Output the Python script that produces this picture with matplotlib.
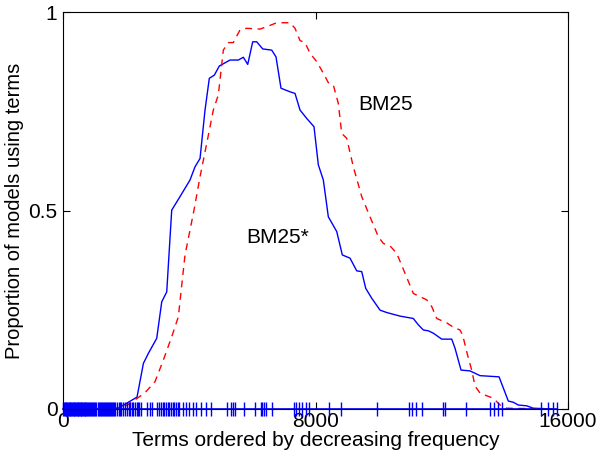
import numpy as np
import matplotlib.pyplot as plt

plt.rcParams['font.family'] = ['Liberation Sans', 'DejaVu Sans']

# BM25* (solid blue)
bm25s_x = [0, 1679, 1901, 2345, 2547, 2703, 2969, 3128, 3286, 3444, 3707, 4024, 4182,
           4341, 4499, 4635, 4794, 4952, 5291, 5554, 5713, 5852, 6010, 6137, 6327,
           6612, 6748, 6906, 7192, 7350, 7509, 7721, 7952, 8089, 8247, 8406, 8672,
           8849, 9093, 9305, 9464, 9590, 9781, 10044, 10256, 10677, 11099, 11257,
           11416, 11574, 11732, 11998, 12315, 12420, 12610, 12895, 13212, 13814,
           14108, 14267, 14425, 14691, 14900, 15500]
bm25s_y = [0, 0, 0.009, 0.030, 0.115, 0.140, 0.178, 0.270, 0.295, 0.501, 0.535, 0.577,
           0.610, 0.631, 0.753, 0.833, 0.841, 0.864, 0.879, 0.879, 0.886, 0.868, 0.925,
           0.925, 0.907, 0.904, 0.887, 0.808, 0.799, 0.795, 0.753, 0.732, 0.711, 0.615,
           0.577, 0.484, 0.447, 0.388, 0.380, 0.348, 0.346, 0.304, 0.279, 0.249, 0.243,
           0.234, 0.228, 0.212, 0.199, 0.197, 0.191, 0.176, 0.176, 0.153, 0.098, 0.096,
           0.084, 0.081, 0.020, 0.017, 0.010, 0.008, 0.002, 0]

# BM25 (dashed red)
bm25_x = [0, 1869, 2123, 2598, 2915, 3178, 3444, 3653, 3865, 4024, 4150, 4341, 4553,
          4762, 4920, 5079, 5237, 5396, 5608, 5820, 6242, 6454, 6771, 7192, 7350, 7509,
          7667, 7826, 8038, 8247, 8406, 8564, 8722, 8830, 8988, 9198, 9464, 9727, 9990,
          10148, 10360, 10573, 10835, 11099, 11311, 11523, 11682, 11840, 12157, 12365,
          12578, 12663, 12790, 12948, 13053, 13212, 13370, 13633, 13846, 14058, 15500]
bm25_y = [0, 0.003, 0.014, 0.041, 0.069, 0.123, 0.182, 0.232, 0.388, 0.451, 0.501,
          0.585, 0.669, 0.753, 0.791, 0.904, 0.923, 0.923, 0.955, 0.959, 0.957, 0.963,
          0.973, 0.973, 0.959, 0.928, 0.923, 0.896, 0.875, 0.846, 0.822, 0.816, 0.770,
          0.694, 0.682, 0.610, 0.535, 0.484, 0.434, 0.417, 0.411, 0.392, 0.342, 0.291,
          0.283, 0.275, 0.258, 0.228, 0.217, 0.206, 0.199, 0.186, 0.144, 0.098, 0.058,
          0.040, 0.035, 0.027, 0.010, 0.002, 0]

# term positions shown as rug
rug_x = [10, 35, 60, 85, 110, 135, 160, 185, 210, 235, 260, 285, 310, 335, 360, 385,
         410, 435, 460, 485, 510, 535, 560, 585, 610, 635, 660, 685, 710, 735, 760, 790,
         820, 855, 887, 920, 951, 985, 1014, 1060, 1109, 1140, 1172, 1205, 1236, 1267,
         1300, 1331, 1365, 1394, 1426, 1460, 1489, 1520, 1552, 1585, 1616, 1660, 1711,
         1760, 1806, 1850, 1901, 1960, 2028, 2075, 2123, 2170, 2218, 2280, 2345, 2376,
         2420, 2471, 2661, 2757, 2820, 2978, 3042, 3105, 3168, 3200, 3263, 3327, 3358,
         3422, 3485, 3517, 3580, 3644, 3675, 3802, 3897, 3992, 4119, 4214, 4372, 4531,
         4689, 5196, 5323, 5386, 5450, 5735, 6083, 6273, 6305, 6368, 6432, 6622, 7319,
         7382, 7477, 7572, 7699, 7794, 8428, 8808, 9948, 10962, 11057, 11184, 11374,
         12040, 12103, 12768, 13529, 13655, 13782, 13909, 15144, 15366, 15524, 15651]

fig = plt.figure(figsize=(6.1, 4.55), dpi=100)
ax = fig.add_axes([0.1033, 0.1011, 0.8279, 0.8725])

ax.plot(bm25s_x, bm25s_y, color='#0000ff', lw=1)
ax.plot(bm25_x, bm25_y, color='#ff0000', lw=1, dashes=(5, 4))
ax.plot(rug_x, np.zeros(len(rug_x)), color='#0000ff', lw=1.2,
        marker='|', markersize=10, markeredgewidth=1, clip_on=False)

ax.text(10234, 0.766, 'BM25', fontsize=15, ha='center', va='center')
ax.text(6812, 0.433, 'BM25*', fontsize=15, ha='center', va='center')

ax.set_xlim(0, 16000)
ax.set_ylim(0, 1)
ax.set_xticks([0, 8000, 16000])
ax.set_yticks([0, 0.5, 1])
ax.set_yticklabels(['0', '0.5', '1'])
ax.tick_params(direction='in', top=True, right=True, labelsize=15, length=5, width=0.8)
ax.tick_params(axis='x', pad=2)
ax.tick_params(axis='y', pad=4)
ax.set_xlabel('Terms ordered by decreasing frequency', fontsize=15, labelpad=0)
ax.set_ylabel('Proportion of models using terms', fontsize=14.5, labelpad=3)

fig.savefig('out.png')
